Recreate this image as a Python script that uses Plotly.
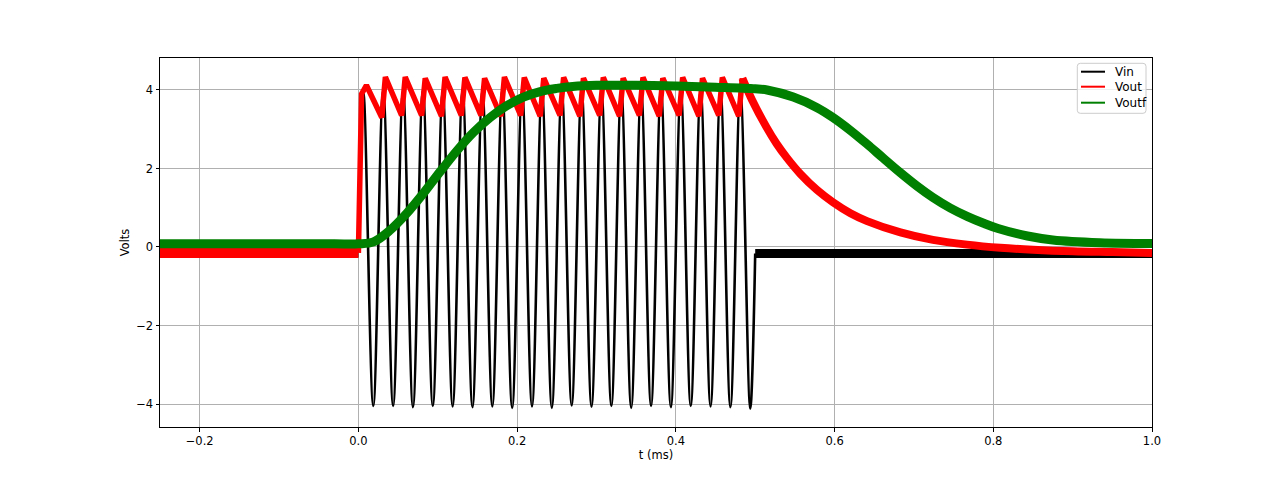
import plotly.graph_objects as go

# ---------------- data ----------------
# Vin: sine burst (knots at peaks / troughs), flat before and after
vin_pre_t = [-0.25, 0.0]
vin_pre_v = [-0.15, -0.15]
vin_peak_t = [0.00625, 0.03125, 0.05625, 0.08125, 0.10625, 0.13125, 0.15625, 0.18125, 0.20625, 0.23125,
              0.25625, 0.28125, 0.30625, 0.33125, 0.35625, 0.38125, 0.40625, 0.43125, 0.45625, 0.48125]
vin_peak_v = [3.96, 4.0, 3.98, 4.0, 3.97, 4.0, 3.98, 4.0, 3.97, 4.0,
              3.98, 4.0, 3.97, 4.0, 3.98, 4.0, 3.97, 4.0, 3.98, 4.0]
vin_trough_t = [0.01875, 0.04375, 0.06875, 0.09375, 0.11875, 0.14375, 0.16875, 0.19375, 0.21875, 0.24375,
                0.26875, 0.29375, 0.31875, 0.34375, 0.36875, 0.39375, 0.41875, 0.44375, 0.46875, 0.49375]
vin_trough_v = [-4.05, -4.05, -4.08, -4.05, -4.06, -4.08, -4.06, -4.1, -4.06, -4.1,
                -4.04, -4.07, -4.05, -4.1, -4.05, -4.08, -4.05, -4.06, -4.08, -4.12]
vin_post_t = [0.5, 1.0]
vin_post_v = [-0.165, -0.165]

# Vout: flat, fast rise, sawtooth, decay
vout_pre_t = [-0.25, 0.0]
vout_pre_v = [-0.15, -0.15]
vout_rise_t = [0.0, 0.004]
vout_rise_v = [-0.15, 3.9]
vout_peak_t = [0.0101, 0.034, 0.059, 0.0842, 0.1092, 0.1342, 0.159, 0.184, 0.209, 0.2336,
               0.2586, 0.2836, 0.3086, 0.3336, 0.3586, 0.3836, 0.4086, 0.4336, 0.4586, 0.4838]
vout_peak_v = [4.12, 4.33, 4.33, 4.3, 4.33, 4.32, 4.3, 4.33, 4.32, 4.3,
               4.32, 4.3, 4.32, 4.3, 4.32, 4.3, 4.32, 4.3, 4.32, 4.3]
vout_trough_t = [0.0295, 0.0545, 0.0797, 0.1047, 0.1297, 0.1545, 0.1795, 0.2045, 0.2291, 0.2541,
                 0.2791, 0.3041, 0.3291, 0.3541, 0.3791, 0.4041, 0.4291, 0.4541, 0.4793]
vout_trough_v = [3.3, 3.35, 3.35, 3.33, 3.35, 3.35, 3.33, 3.35, 3.33, 3.35,
                 3.33, 3.35, 3.33, 3.35, 3.33, 3.35, 3.33, 3.35, 3.33]
vout_decay_t = [0.4838, 0.4962, 0.514, 0.527, 0.540, 0.557, 0.578, 0.598, 0.620, 0.641,
                0.683, 0.724, 0.767, 0.809, 0.85, 0.9, 0.95, 1.0]
vout_decay_v = [4.3, 3.74, 3.06, 2.63, 2.27, 1.86, 1.45, 1.14, 0.86, 0.66,
                0.37, 0.18, 0.06, -0.02, -0.07, -0.11, -0.13, -0.15]

# Voutf: smooth rise, plateau, smooth fall
voutf_t = [-0.25, -0.1, -0.03, 0.0, 0.019, 0.040, 0.061, 0.082, 0.103, 0.124, 0.145, 0.166, 0.187, 0.208,
           0.229, 0.250, 0.27, 0.30, 0.35, 0.40, 0.45, 0.50, 0.515, 0.548, 0.578, 0.598, 0.620, 0.641,
           0.661, 0.683, 0.704, 0.724, 0.746, 0.767, 0.787, 0.806, 0.843, 0.875, 0.934, 1.0]
voutf_v = [0.08, 0.08, 0.08, 0.08, 0.13, 0.43, 0.86, 1.37, 1.92, 2.45, 2.92, 3.3, 3.6, 3.82,
           3.96, 4.04, 4.09, 4.12, 4.12, 4.1, 4.07, 4.03, 4.0, 3.82, 3.55, 3.3, 2.97, 2.62,
           2.27, 1.89, 1.55, 1.26, 0.99, 0.78, 0.61, 0.47, 0.28, 0.18, 0.11, 0.09]

series_names = ["Vin", "Vout", "Voutf"]
x_tickvals = [-0.2, 0.0, 0.2, 0.4, 0.6, 0.8, 1.0]
x_ticktext = ["\u22120.2", "0.0", "0.2", "0.4", "0.6", "0.8", "1.0"]
y_tickvals = [-4, -2, 0, 2, 4]
y_ticktext = ["\u22124", "\u22122", "0", "2", "4"]

# ---------------- build sequences ----------------
def interleave(a_t, a_v, b_t, b_v):
    pts = sorted(list(zip(a_t, a_v)) + list(zip(b_t, b_v)))
    return [p[0] for p in pts], [p[1] for p in pts]

sine_t, sine_v = interleave(vin_peak_t, vin_peak_v, vin_trough_t, vin_trough_v)
sine_t = [0.0] + sine_t + [vin_post_t[0]]
sine_v = [0.0] + sine_v + [vin_post_v[0]]

saw_t, saw_v = interleave(vout_peak_t, vout_peak_v, vout_trough_t, vout_trough_v)
saw_t = vout_rise_t + saw_t
saw_v = vout_rise_v + saw_v

BLACK = "#000000"
RED = "#ff0000"
GREEN = "#008000"
colors = [BLACK, RED, GREEN]
FONT = "DejaVu Sans"

fig = go.Figure()

def seg(x, y, col, w, shape="linear"):
    fig.add_trace(go.Scatter(x=x, y=y, mode="lines", showlegend=False,
                             line=dict(color=col, width=w, shape=shape), hoverinfo="skip"))

# Vin
seg(vin_pre_t, vin_pre_v, BLACK, 9)
seg(sine_t, sine_v, BLACK, 2.6, "spline")
seg(vin_post_t, vin_post_v, BLACK, 9)
# Vout
seg(vout_pre_t, vout_pre_v, RED, 10)
seg(saw_t, saw_v, RED, 5.5)
seg(vout_decay_t, vout_decay_v, RED, 8, "spline")
# Voutf
seg(voutf_t, voutf_v, GREEN, 9, "spline")

# ---------------- matplotlib-style legend (upper right) ----------------
PW, PH = 992.0, 369.0          # plot-area size in px
def px(xp):  # pixel offset from plot-left -> paper
    return xp / PW
def py(yp):  # pixel offset from plot-top -> paper
    return 1 - yp / PH

bx0, bx1, by0, by1 = px(917.3), px(986.0), py(55.3), py(5.3)
rx, ry = px(3), 3 / PH
path = (f"M {bx0+rx},{by1} L {bx1-rx},{by1} Q {bx1},{by1} {bx1},{by1-ry} "
        f"L {bx1},{by0+ry} Q {bx1},{by0} {bx1-rx},{by0} L {bx0+rx},{by0} "
        f"Q {bx0},{by0} {bx0},{by0+ry} L {bx0},{by1-ry} Q {bx0},{by1} {bx0+rx},{by1} Z")
shapes = [dict(type="path", xref="paper", yref="paper", path=path,
               fillcolor="rgba(255,255,255,0.8)", line=dict(color="#cccccc", width=1), layer="above")]
annotations = []
row_y = [13.7, 28.7, 44.7]
for name, col, ry_px in zip(series_names, colors, row_y):
    yy = py(ry_px)
    shapes.append(dict(type="line", xref="paper", yref="paper", x0=px(921), x1=px(945),
                       y0=yy, y1=yy, line=dict(color=col, width=2), layer="above"))
    annotations.append(dict(xref="paper", yref="paper", x=px(952.5), y=yy, text=name,
                            showarrow=False, xanchor="left", yanchor="middle",
                            font=dict(family=FONT, size=12, color="black")))

axis_common = dict(showline=True, linecolor="black", linewidth=1, mirror=True,
                   showgrid=True, gridcolor="#b0b0b0", gridwidth=0.8,
                   ticks="outside", ticklen=3.5, tickcolor="black", tickwidth=1,
                   zeroline=False, tickfont=dict(family=FONT, size=11.5, color="black"))

fig.update_layout(
    width=1280, height=480,
    margin=dict(l=152, r=136, t=50, b=61),
    paper_bgcolor="white", plot_bgcolor="white",
    font=dict(family=FONT, size=11.5, color="black"),
    showlegend=False,
    shapes=shapes, annotations=annotations,
    xaxis=dict(range=[-0.25, 1.0], tickvals=x_tickvals, ticktext=x_ticktext,
               title=dict(text="t (ms)", standoff=2, font=dict(size=11.5)), **axis_common),
    yaxis=dict(range=[-4.586, 4.815], tickvals=y_tickvals, ticktext=y_ticktext,
               title=dict(text="Volts", standoff=4, font=dict(size=11.5)), **axis_common),
)

fig.write_html("out.html")
